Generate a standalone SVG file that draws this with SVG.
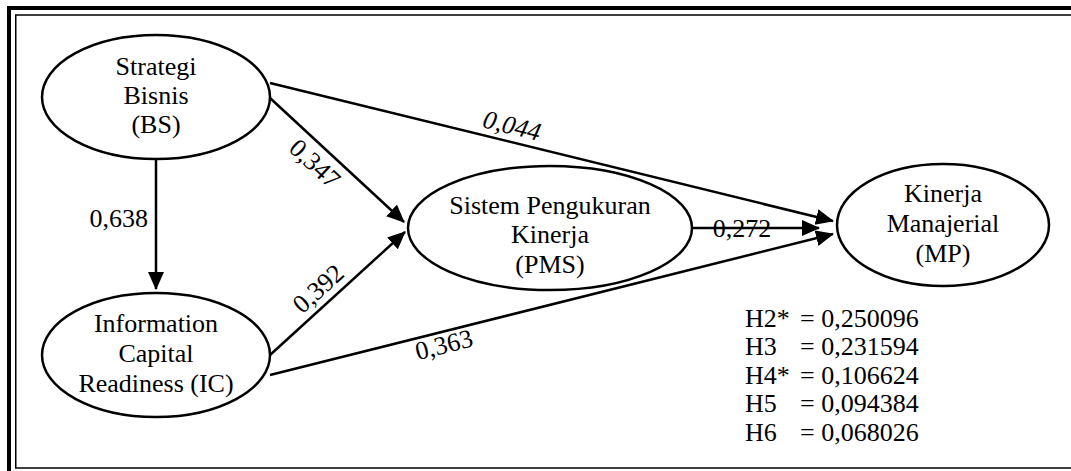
<svg xmlns="http://www.w3.org/2000/svg" width="1071" height="471" viewBox="0 0 1071 471">
<defs>
<style>
.t{font-family:"Liberation Serif","Times New Roman",serif;font-size:26px;fill:#000}
.n{fill:#fff;stroke:#000;stroke-width:2.5}
.c{stroke:#000;stroke-width:2.5;fill:none;marker-end:url(#ah)}
.i{font-style:italic}
</style>
<marker id="ah" markerUnits="userSpaceOnUse" markerWidth="20" markerHeight="18" refX="17" refY="8" orient="auto">
<path d="M0,0 L18,8 L0,16 z" fill="#000"/>
</marker>
</defs>
<rect width="1071" height="471" fill="#fff"/>
<rect x="9" y="8" width="1100" height="500" fill="none" stroke="#000" stroke-width="4"/>
<rect x="15.75" y="15" width="1100" height="453" fill="none" stroke="#000" stroke-width="1.5"/>

<g id="connectors">
<line class="c" x1="156" y1="160" x2="156" y2="289"/>
<line class="c" x1="270" y1="98" x2="404" y2="222"/>
<line class="c" x1="270" y1="355" x2="405" y2="232"/>
<line class="c" x1="270" y1="83" x2="833" y2="221"/>
<line class="c" x1="693" y1="228" x2="819" y2="228"/>
<line class="c" x1="270" y1="375" x2="833" y2="234"/>
<text class="t" x="148" y="227" text-anchor="end">0,638</text>
<text class="t" x="309" y="170" text-anchor="middle" transform="rotate(43 309 170)">0,347</text>
<text class="t" x="324" y="295" text-anchor="middle" transform="rotate(-42 324 295)">0,392</text>
<text class="t i" x="510" y="134" text-anchor="middle" transform="rotate(13.8 510 134)">0,044</text>
<text class="t" x="742" y="237" text-anchor="middle">0,272</text>
<text class="t" x="446" y="353" text-anchor="middle" transform="rotate(-14.1 446 353)">0,363</text>
</g>

<g id="node-bs">
<ellipse class="n" cx="156" cy="97" rx="114" ry="62"/>
<text class="t" text-anchor="middle"><tspan x="156" y="75">Strategi</tspan><tspan x="156" y="104">Bisnis</tspan><tspan x="156" y="133">(BS)</tspan></text>
</g>
<g id="node-ic">
<ellipse class="n" cx="156" cy="355" rx="114" ry="62"/>
<text class="t" text-anchor="middle"><tspan x="156" y="332">Information</tspan><tspan x="156" y="362">Capital</tspan><tspan x="156" y="392">Readiness (IC)</tspan></text>
</g>
<g id="node-pms">
<ellipse class="n" cx="550" cy="228" rx="142" ry="62"/>
<text class="t" text-anchor="middle"><tspan x="550" y="214">Sistem Pengukuran</tspan><tspan x="550" y="243">Kinerja</tspan><tspan x="550" y="273">(PMS)</tspan></text>
</g>
<g id="node-mp">
<ellipse class="n" cx="943" cy="225" rx="106" ry="61"/>
<text class="t" text-anchor="middle"><tspan x="943" y="202">Kinerja</tspan><tspan x="943" y="232">Manajerial</tspan><tspan x="943" y="262">(MP)</tspan></text>
</g>

<g id="hypotheses">
<text class="t"><tspan x="745" y="327">H2*</tspan><tspan x="800" y="327">= 0,250096</tspan></text>
<text class="t"><tspan x="745" y="355">H3</tspan><tspan x="800" y="355">= 0,231594</tspan></text>
<text class="t"><tspan x="745" y="384">H4*</tspan><tspan x="800" y="384">= 0,106624</tspan></text>
<text class="t"><tspan x="745" y="412">H5</tspan><tspan x="800" y="412">= 0,094384</tspan></text>
<text class="t"><tspan x="745" y="441">H6</tspan><tspan x="800" y="441">= 0,068026</tspan></text>
</g>
</svg>
